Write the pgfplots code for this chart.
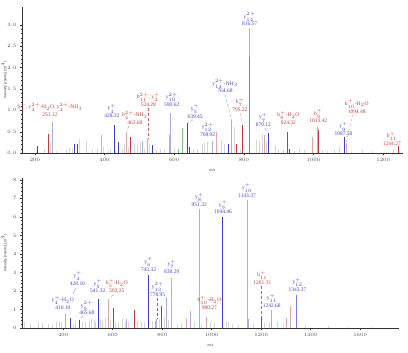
\documentclass[border=0pt]{standalone}
\usepackage{pgfplots}
\pgfplotsset{compat=1.18}
\usepackage{fontspec}
\setmainfont{Liberation Serif}
\newfontfamily\lsans{Liberation Sans}
\definecolor{dblue}{RGB}{60,60,205}
\definecolor{lblue}{RGB}{172,172,236}
\definecolor{mblue}{RGB}{118,118,232}
\definecolor{dred}{RGB}{195,55,55}
\definecolor{lred}{RGB}{228,165,165}
\definecolor{lgray}{RGB}{214,214,214}
\definecolor{lgreen}{RGB}{130,200,130}
\definecolor{tblue}{RGB}{70,70,205}
\definecolor{tred}{RGB}{200,60,60}
\pgfplotsset{
 spec/.style={scale only axis, axis lines=left, axis line style={-, black!80, line width=0.4pt},
  tick align=outside, tick style={black!80, line width=0.3pt}, major tick length=2bp, minor tick length=1.2bp,
  tick label style={font=\lsans\fontsize{3.6}{4}\selectfont, text=black!70},
  xticklabel style={/pgf/number format/1000 sep={}},
  label style={font=\lsans\fontsize{3.5}{4}\selectfont, text=black!80},
  ylabel style={at={(axis description cs:-0.03,0.5)}, anchor=south},
  clip=false, ycomb, every axis plot/.append style={line width=0.9bp}}
}
\tikzset{
 lab/.style={font=\fontsize{5.5}{5.8}\selectfont, align=center, anchor=south, inner sep=0pt},
 lead/.style={densely dashed, line width=0.25pt}
}
\begin{document}
\begin{tikzpicture}
\useasboundingbox (0,0) rectangle (408bp,353bp);
% ---------------- top panel ----------------
\begin{axis}[spec, at={(22bp,200bp)}, anchor=south west, width=381bp, height=146bp,
  xmin=163, xmax=1257, ymin=0, ymax=3.42,
  xtick={200,400,...,1200}, minor x tick num=3,
  ytick={0,0.5,...,3.0}, minor y tick num=4,
  yticklabel style={/pgf/number format/.cd, fixed, fixed zerofill, precision=1},
  xlabel={m/z}, ylabel={Intensity [counts] (10$^4$)}]
\addplot[lgray] coordinates {(205,0.05)(228,0.1)(245,0.25)(262,0.05)(290,0.08)(300,0.12)(308,0.1)(328,0.32)(348,0.27)(365,0.06)(380,0.1)(398,0.15)(410,0.05)(418,0.1)(432,0.06)(450,0.1)(458,0.2)(470,0.15)(487,0.22)(495,0.18)(502,0.25)(515,0.1)(530,0.2)(548,0.06)(560,0.1)(572,0.08)(600,0.1)(655,0.1)(668,0.08)(680,0.2)(686,0.23)(695,0.25)(735,0.3)(745,0.22)(772,0.62)(790,0.1)(835,0.3)(845,0.28)(852,0.45)(865,0.25)(890,0.18)(900,0.1)(915,0.08)(945,0.05)(960,0.1)(975,0.06)(1025,0.08)(1040,0.05)(1060,0.06)(1075,0.15)(1110,0.05)(1140,0.06)(1170,0.04)(1230,0.1)};
\addplot[lblue] coordinates {(251.12,0.73)(509,0.28)(524.28,0.32)(585,0.42)(590.62,0.93)(708.92,0.28)(764.68,0.77)(816.57,2.93)};
\addplot[mblue] coordinates {(816.57,2.25)};
\addplot[dblue] coordinates {(207,0.16)(315,0.22)(321,0.22)(428.32,0.65)(439,0.26)(538,0.19)(639.45,0.71)(645,0.15)(757,0.2)(870.12,0.48)(931,0.1)(1087.58,0.38)};
\addplot[lred] coordinates {(392,0.42)(463.68,0.5)(722,0.5)(858,0.42)(998,0.38)(1011,0.6)(1094.48,0.23)};
\addplot[dred] coordinates {(238,0.44)(473,0.37)(780,0.2)(795.22,0.66)(924.32,0.49)(1013.42,0.55)(1244.27,0.16)};
\addplot[lgreen] coordinates {(613,0.1)(624,0.58)};
% labels
\node[lab, text=tred] at (axis cs:243,0.85) {b$_2^+$, y$_4^{2+}$-H$_2$O, y$_4^{2+}$-NH$_3$\\251.12};
\node[lab, text=tblue] at (axis cs:421,0.82) {y$_4^+$\\428.32};
\node[lab, text=tred] at (axis cs:487,0.66) {b$_4^{2+}$-NH$_3$\\463.68};
\draw[lead, tred!80] (axis cs:470,0.63) -- (axis cs:463.68,0.52);
\node[lab, text=tred] at (axis cs:526,1.08) {b$_{11}^{2+}$, y$_4^+$\\524.28};
\draw[lead, tred!80] (axis cs:526,1.05) -- (axis cs:526,0.33);
\node[lab, text=tblue] at (axis cs:593,1.08) {y$_{10}^{2+}$\\590.62};
\node[lab, text=tblue] at (axis cs:660,0.81) {y$_5^+$\\639.45};
\draw[lead, tblue!80] (axis cs:655,0.78) -- (axis cs:641,0.72);
\node[lab, text=tblue] at (axis cs:696,0.38) {y$_{12}^{2+}$\\708.92};
\node[lab, text=tblue] at (axis cs:746,1.40) {y$_{14}^{2+}$-NH$_3$\\764.68};
\draw[lead, tblue!80] (axis cs:746,1.37) -- (axis cs:764.68,0.78);
\node[lab, text=tred] at (axis cs:789,0.97) {b$_7^+$\\795.22};
\draw[lead, tred!80] (axis cs:789,0.94) -- (axis cs:795.22,0.67);
\node[lab, text=tblue] at (axis cs:816.57,2.97) {y$_{14}^{2+}$\\816.57};
\node[lab, text=tblue] at (axis cs:856,0.61) {y$_7^+$\\870.12};
\draw[lead, tblue!80] (axis cs:860,0.58) -- (axis cs:870.12,0.49);
\node[lab, text=tred] at (axis cs:928,0.66) {b$_8^+$-H$_2$O\\924.32};
\node[lab, text=tred] at (axis cs:1014,0.70) {b$_9^+$\\1013.42};
\node[lab, text=tblue] at (axis cs:1086,0.40) {y$_9^+$\\1087.58};
\node[lab, text=tred] at (axis cs:1124,0.93) {b$_{10}^+$-H$_2$O\\1094.48};
\draw[lead, tred!80] (axis cs:1112,0.90) -- (axis cs:1094.48,0.24);
\node[lab, text=tred] at (axis cs:1225,0.17) {b$_{11}^+$\\1244.27};
\end{axis}
% ---------------- bottom panel ----------------
\begin{axis}[spec, at={(22bp,25bp)}, anchor=south west, width=377bp, height=150bp,
  xmin=234, xmax=1757, ymin=0, ymax=8.1,
  xtick={400,600,...,1600}, minor x tick num=3,
  ytick={0,1,...,8}, minor y tick num=4,
  xlabel={m/z}, ylabel={Intensity [counts] (10$^3$)}]
\addplot[lgray] coordinates {(245,0.3)(270,0.2)(300,0.35)(318,0.25)(340,0.2)(358,0.15)(372,0.3)(385,0.3)(395,0.35)(440,0.2)(450,0.4)(480,0.3)(492,0.35)(505,0.4)(515,0.5)(525,0.45)(532,0.3)(550,0.5)(560,0.4)(572,0.55)(590,0.4)(610,0.3)(625,0.25)(640,0.5)(650,0.3)(665,0.3)(700,0.4)(715,0.3)(730,0.35)(760,0.4)(790,0.5)(808,0.6)(825,0.45)(860,0.2)(880,0.25)(930,0.3)(960,0.2)(995,0.25)(1010,0.3)(1060,0.4)(1070,0.3)(1085,0.2)(1110,0.15)(1170,0.2)(1215,0.25)(1235,0.3)(1265,0.3)(1290,0.25)(1380,0.15)(1470,0.1)(1550,0.08)(1650,0.05)};
\addplot[lblue] coordinates {(410.10,0.75)(657,0.5)(772,0.4)(778.95,0.5)(818,1.65)(838.29,2.7)(916,0.92)(951.32,6.4)(1143.37,6.9)(1150,0.5)(1242.68,0.95)};
\addplot[mblue] coordinates {(1343.37,1.8)};
\addplot[dblue] coordinates {(428.10,0.55)(465.68,0.44)(541.32,1.55)(743.32,2.85)(1044.46,5.98)};
\addplot[lred] coordinates {(583.25,1.55)(897,0.5)(980.27,0.6)(1301,0.55)(1320,1.18)};
\addplot[dred] coordinates {(603,1.08)(687,0.98)(798,1.2)(1201.31,0.6)};
% labels
\node[lab, text=tblue] at (axis cs:399,0.98) {y$_4^+$-H$_2$O\\410.10};
\node[lab, text=tblue] at (axis cs:458,2.30) {y$_4^+$\\428.10};
\draw[tblue!80, line width=0.25pt] (axis cs:452,2.15) -- (axis cs:440,1.85);
\node[lab, text=tblue] at (axis cs:496,0.70) {y$_9^{2+}$\\465.68};
\draw[lead, tblue!80] (axis cs:482,0.65) -- (axis cs:466,0.46);
\node[lab, text=tblue] at (axis cs:540,1.88) {y$_5^+$\\541.32};
\node[lab, text=tred] at (axis cs:617,1.90) {b$_5^+$-H$_2$O\\583.25};
\draw[lead, tred!80] (axis cs:605,1.80) -- (axis cs:588,1.62);
\node[lab, text=tblue] at (axis cs:745,3.06) {y$_6^+$\\743.32};
\node[lab, text=tblue] at (axis cs:782,1.70) {y$_{13}^{2+}$\\778.95};
\draw[lead, tblue!80] (axis cs:779,1.62) -- (axis cs:779,0.52);
\node[lab, text=tblue] at (axis cs:839,2.93) {y$_7^+$\\838.29};
\node[lab, text=tblue] at (axis cs:950,6.55) {y$_8^+$\\951.32};
\node[lab, text=tred] at (axis cs:991,0.98) {b$_{10}^+$-H$_2$O\\980.27};
\node[lab, text=tblue] at (axis cs:1046,6.15) {y$_9^+$\\1044.46};
\node[lab, text=tblue] at (axis cs:1143,7.05) {y$_{10}^+$\\1143.37};
\node[lab, text=tred] at (axis cs:1205,2.34) {b$_{11}^+$\\1201.31};
\draw[lead, tred!80] (axis cs:1201.31,2.25) -- (axis cs:1201.31,0.62);
\node[lab, text=tblue] at (axis cs:1243,1.10) {y$_{11}^+$\\1242.68};
\node[lab, text=tblue] at (axis cs:1347,1.96) {y$_{12}^+$\\1343.37};
\end{axis}
\end{tikzpicture}
\end{document}
